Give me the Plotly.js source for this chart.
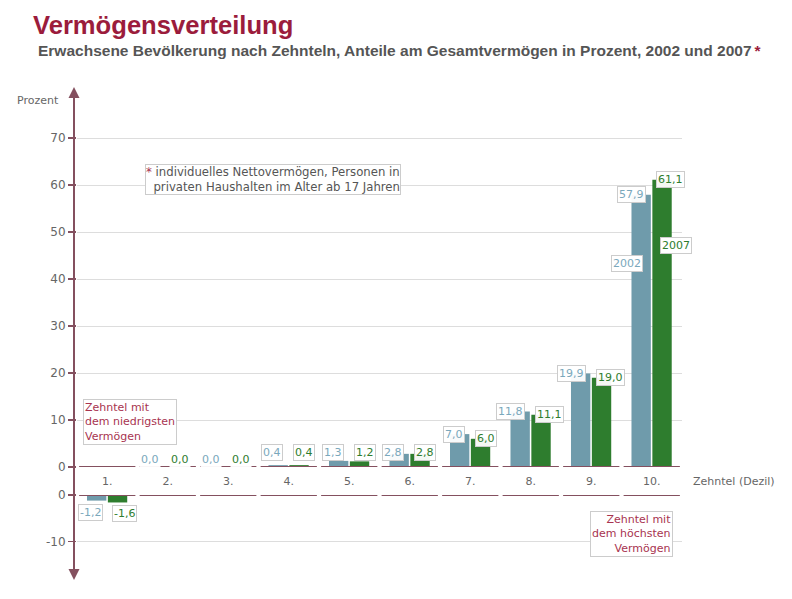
<!DOCTYPE html>
<html>
<head>
<meta charset="utf-8">
<script src="https://cdn.plot.ly/plotly-3.0.1.min.js"></script>
<style>html,body{margin:0;padding:0;background:#fff;}#chart{width:792px;height:599px;}</style>
</head>
<body>
<div id="chart"></div>
<script>
// ---- data ----
var categories = ['1.', '2.', '3.', '4.', '5.', '6.', '7.', '8.', '9.', '10.'];
var years = ['2002', '2007'];
var values2002 = [-1.2, 0.0, 0.0, 0.4, 1.3, 2.8, 7.0, 11.8, 19.9, 57.9];
var values2007 = [-1.6, 0.0, 0.0, 0.4, 1.2, 2.8, 6.0, 11.1, 19.0, 61.1];
var upperTicks = [0, 10, 20, 30, 40, 50, 60, 70];
var lowerTicks = [-10, 0];
var lowerTickText = ['-10', '0'];

// ---- styles / geometry ----
var W = 792, H = 599, L = 77, R = 682, T = 87, B = 580;
function px(x) { return (x - L) / (R - L); }
function py(y) { return (B - y) / (B - T); }
var C2002 = '#6f9bab', C2007 = '#2e7d2e';
var T2002 = '#7aa8bc', T2007 = '#2e7d2e';
var AXC = '#84505f', GRID = '#dddddd', TXT = '#666666', RED = '#a8344f';
var FONT = 'DejaVu Sans, Verdana, sans-serif';
var upperZero = 467, lowerZero = 495, pxPerUnit = 4.7, pxPerUnitLow = 4.67;
var upperMax = (upperZero - T) / pxPerUnit;
var lowerMin = -(B - lowerZero) / pxPerUnitLow;
var BW = 0.32, OFF = [-0.335, 0.01];
var idx = categories.map(function (c, i) { return i; });

function fmt(v) { return v.toFixed(1).replace('.', ','); }

var traces = [];
[values2002, values2007].forEach(function (vals, k) {
  ['y', 'y2'].forEach(function (ya) {
    traces.push({
      type: 'bar', x: idx, y: vals, xaxis: 'x', yaxis: ya,
      width: BW, offset: OFF[k], name: years[k], showlegend: false,
      marker: { color: k === 0 ? C2002 : C2007, line: { width: 0 } },
      hoverinfo: 'x+y'
    });
  });
});

var annotations = [];
// value labels
[values2002, values2007].forEach(function (vals, k) {
  var center = OFF[k] + BW / 2;
  vals.forEach(function (v, i) {
    var a = {
      x: i + center, xref: 'x', text: fmt(v), showarrow: false,
      xanchor: k === 0 ? 'right' : 'left',
      font: { family: FONT, size: 11, color: k === 0 ? T2002 : T2007 },
      bgcolor: 'rgba(255,255,255,0.95)', bordercolor: v === 0 ? 'rgba(0,0,0,0)' : '#cccccc',
      borderwidth: 1, borderpad: 1
    };
    if (v >= 0) {
      a.yref = 'y'; a.y = Math.max(v, 3); a.yanchor = 'middle';
      a.xshift = k === 0 ? 5 : -6;
      if (v === 0) { a.y = 1.7; a.xshift = k === 0 ? 4 : -9; }
    } else {
      a.yref = 'y2'; a.y = v; a.yanchor = 'top'; a.yshift = -3;
      a.xshift = k === 0 ? 6 : -6;
    }
    annotations.push(a);
  });
});
// year labels on last decile
var last = categories.length - 1;
annotations.push({ x: last + OFF[0] + BW / 2, xref: 'x', y: 43.4, yref: 'y', text: years[0], showarrow: false,
  xanchor: 'right', xshift: 2, yanchor: 'middle', font: { family: FONT, size: 11, color: T2002 },
  bgcolor: '#fff', bordercolor: '#cccccc', borderwidth: 1, borderpad: 1 });
annotations.push({ x: last + OFF[1] + BW / 2, xref: 'x', y: 47.2, yref: 'y', text: years[1], showarrow: false,
  xanchor: 'left', xshift: -2, yanchor: 'middle', font: { family: FONT, size: 11, color: T2007 },
  bgcolor: '#fff', bordercolor: '#cccccc', borderwidth: 1, borderpad: 1 });

// titles
annotations.push({ xref: 'paper', yref: 'paper', x: px(31), y: py(25), xanchor: 'left', yanchor: 'middle',
  text: '<b>Vermögensverteilung</b>', showarrow: false,
  font: { family: 'Liberation Sans, Arial, sans-serif', size: 25.6, color: '#9b1c3c' } });
annotations.push({ xref: 'paper', yref: 'paper', x: px(36), y: py(50), xanchor: 'left', yanchor: 'middle',
  text: '<b>Erwachsene Bevölkerung nach Zehnteln, Anteile am Gesamtvermögen in Prozent, 2002 und 2007</b><span style="color:#9b1c3c"><b>\u2009*</b></span>',
  showarrow: false, font: { family: 'Liberation Sans, Arial, sans-serif', size: 15.5, color: '#555555' } });
// axis captions
annotations.push({ xref: 'paper', yref: 'paper', x: px(15), y: py(101), xanchor: 'left', yanchor: 'middle',
  text: 'Prozent', showarrow: false, font: { family: FONT, size: 11, color: TXT } });
annotations.push({ xref: 'paper', yref: 'paper', x: px(691), y: py(481), xanchor: 'left', yanchor: 'middle',
  text: 'Zehntel (Dezil)', showarrow: false, font: { family: FONT, size: 11, color: TXT } });
// footnote box
annotations.push({ xref: 'paper', yref: 'paper', x: px(145), y: py(164), xanchor: 'left', yanchor: 'top',
  align: 'left', showarrow: false,
  text: '<span style="color:#a8344f">*</span> individuelles Nettovermögen, Personen in<br>\u00a0\u00a0privaten Haushalten im Alter ab 17 Jahren',
  font: { family: FONT, size: 11.7, color: '#555555' }, bgcolor: '#fff', bordercolor: '#cccccc', borderwidth: 1, borderpad: 0 });
// decile notes
annotations.push({ x: -0.5, xref: 'x', xshift: 6, y: 9.5, yref: 'y', xanchor: 'left', yanchor: 'middle', align: 'left',
  text: 'Zehntel mit<br>dem niedrigsten<br>Vermögen', showarrow: false,
  font: { family: FONT, size: 11, color: RED }, bgcolor: '#fff', bordercolor: '#cccccc', borderwidth: 1, borderpad: 1 });
annotations.push({ x: last + 0.5, xref: 'x', xshift: -9, y: -8.3, yref: 'y2', xanchor: 'right', yanchor: 'middle', align: 'right',
  text: 'Zehntel mit<br>dem höchsten<br>Vermögen', showarrow: false,
  font: { family: FONT, size: 11, color: RED }, bgcolor: '#fff', bordercolor: '#cccccc', borderwidth: 1, borderpad: 1 });
// axis arrow heads
var axX = px(74);
annotations.push({ xref: 'paper', yref: 'paper', x: axX, y: 1, ax: 0, ay: 14, text: '', showarrow: true,
  arrowhead: 2, arrowsize: 1.1, arrowwidth: 2, arrowcolor: AXC, standoff: 0 });
annotations.push({ xref: 'paper', yref: 'paper', x: axX, y: 0, ax: 0, ay: -14, text: '', showarrow: true,
  arrowhead: 2, arrowsize: 1.1, arrowwidth: 2, arrowcolor: AXC, standoff: 0 });

var shapes = [];
shapes.push({ type: 'line', xref: 'paper', yref: 'paper', x0: axX, x1: axX, y0: 0.01, y1: 0.99,
  line: { color: AXC, width: 2 } });
categories.forEach(function (c, i) {
  ['y', 'y2'].forEach(function (ya) {
    shapes.push({ type: 'line', xref: 'x', yref: ya, x0: i - 0.465, x1: i + 0.465, y0: 0, y1: 0,
      line: { color: AXC, width: 2 } });
  });
});

var layout = {
  width: W, height: H,
  margin: { l: L, r: W - R, t: T, b: H - B, pad: 0 },
  paper_bgcolor: '#fff', plot_bgcolor: 'rgba(0,0,0,0)',
  showlegend: false,
  font: { family: FONT, size: 11, color: TXT },
  xaxis: {
    domain: [0, 1], anchor: 'y', range: [-0.5, categories.length - 0.5],
    tickvals: idx, ticktext: categories, showgrid: false, zeroline: false, showline: false,
    ticks: 'outside', ticklen: 4, tickcolor: 'rgba(0,0,0,0)', tickfont: { family: FONT, size: 11, color: TXT },
    fixedrange: true
  },
  yaxis: {
    domain: [py(upperZero), 1], anchor: 'x', range: [0, upperMax],
    tickvals: upperTicks, showgrid: true, gridcolor: GRID, gridwidth: 1, zeroline: false, showline: false,
    ticks: 'outside', ticklen: 8, tickwidth: 1.5, tickcolor: AXC,
    tickfont: { family: FONT, size: 12, color: TXT }, fixedrange: true
  },
  yaxis2: {
    domain: [0, py(lowerZero)], anchor: 'x', range: [lowerMin, 0],
    tickvals: lowerTicks, ticktext: lowerTickText, showgrid: true, gridcolor: GRID, gridwidth: 1, zeroline: false, showline: false,
    ticks: 'outside', ticklen: 8, tickwidth: 1.5, tickcolor: AXC,
    tickfont: { family: FONT, size: 12, color: TXT }, fixedrange: true
  },
  annotations: annotations,
  shapes: shapes
};

Plotly.newPlot('chart', traces, layout, { staticPlot: true, displayModeBar: false });
</script>
</body>
</html>
